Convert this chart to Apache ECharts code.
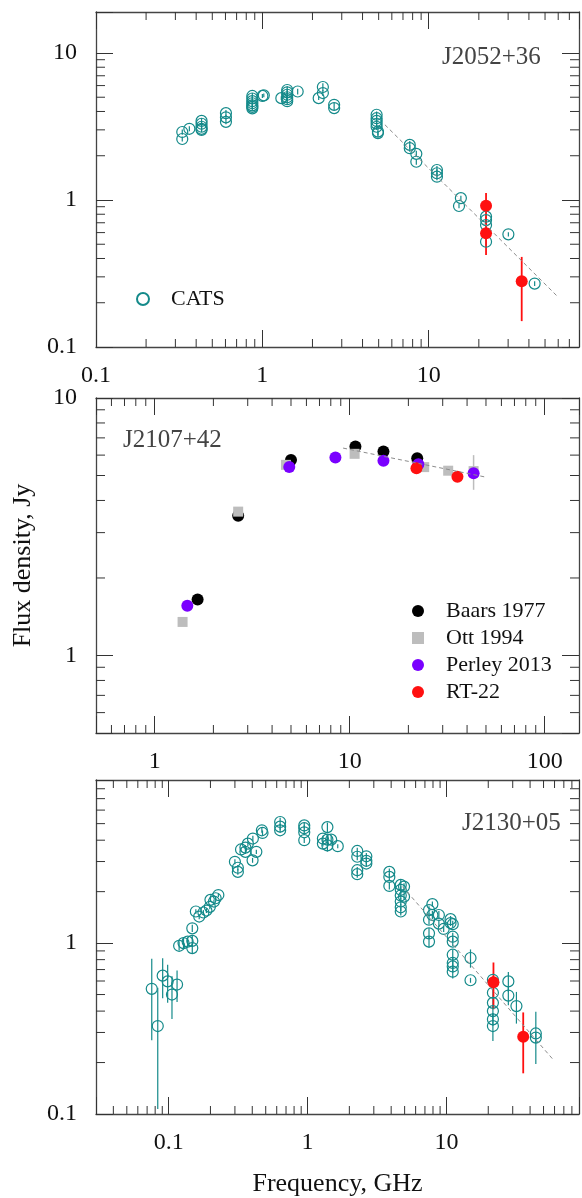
<!DOCTYPE html>
<html>
<head>
<meta charset="utf-8">
<script src="https://cdn.jsdelivr.net/npm/echarts@6/dist/echarts.min.js"></script>
<style>
    html, body { margin: 0; padding: 0; background: #fff; }
    #chart { width: 582px; height: 1198px; }
</style>
</head>
<body>
<div id="chart"></div>
<script>
//#region DATA
// [frequency GHz, flux Jy, error Jy]
const cats1 = [
    [0.33, 2.9, 0.12], [0.33, 2.6, 0.1], [0.364, 3.05, 0.12],
    [0.431, 3.45, 0.15], [0.431, 3.3, 0.12], [0.431, 3.15, 0.12], [0.431, 3.05, 0.1], [0.431, 3.0, 0.1],
    [0.604, 3.9, 0.2], [0.604, 3.65, 0.15], [0.604, 3.4, 0.12],
    [0.87, 5.1, 0.25], [0.87, 4.9, 0.2], [0.87, 4.7, 0.2], [0.87, 4.55, 0.2], [0.87, 4.4, 0.15], [0.87, 4.3, 0.15], [0.87, 4.2, 0.15],
    [1.0, 5.1, 0.15], [1.02, 5.15, 0.15],
    [1.30, 4.93, 0.15], [1.41, 5.6, 0.35], [1.41, 5.4, 0.3], [1.41, 5.2, 0.25], [1.41, 5.0, 0.2], [1.41, 4.85, 0.2], [1.41, 4.7, 0.2],
    [1.63, 5.47, 0.25], [2.18, 4.93, 0.15], [2.31, 5.87, 0.35], [2.31, 5.34, 0.25],
    [2.70, 4.44, 0.12], [2.70, 4.22, 0.12],
    [4.86, 3.8, 0.2], [4.86, 3.6, 0.2], [4.86, 3.45, 0.15], [4.86, 3.3, 0.15], [4.86, 3.15, 0.15], [4.95, 2.92, 0.25], [4.95, 2.85, 0.1],
    [7.69, 2.37, 0.15], [7.69, 2.25, 0.12], [8.42, 2.06, 0.1], [8.42, 1.82, 0.08],
    [11.2, 1.6, 0.1], [11.2, 1.52, 0.1], [11.2, 1.44, 0.08],
    [15.6, 1.03, 0.04], [15.2, 0.91, 0.03],
    [22.1, 0.77, 0.04], [22.1, 0.73, 0.04], [22.1, 0.675, 0.04], [22.1, 0.52, 0.03],
    [30.1, 0.584, 0.02], [43.3, 0.27, 0.01]
];
const rt1 = [[22.1, 0.915, 0.2], [22.1, 0.593, 0.17], [36.2, 0.28, 0.13]];
const fit1 = [[5.45, 3.25], [59.1, 0.222]];

const baars2 = [[1.66, 1.65], [2.68, 3.49], [5.0, 5.75], [10.7, 6.48], [14.9, 6.2], [22.2, 5.84]];
const ott2 = [[1.39, 1.35], [2.68, 3.62], [4.71, 5.5], [10.6, 6.07], [24.1, 5.39], [32, 5.22], [43.2, 5.2, 0.8]];
const perley2 = [[1.47, 1.56], [4.9, 5.39], [8.45, 5.87], [14.9, 5.7], [22.5, 5.53], [43.2, 5.1]];
const rt2 = [[22.0, 5.34], [35.7, 4.95]];
const fit2 = [[9.25, 6.39], [50.5, 4.92]];

const cats3 = [
    [0.0756, 0.54, 0.27], [0.0835, 0.327, 0.22], [0.0906, 0.645, 0.17], [0.0984, 0.597, 0.15], [0.1057, 0.5, 0.14], [0.115, 0.572, 0.12],
    [0.119, 0.964, 0.06], [0.128, 1.0, 0.08], [0.137, 1.02, 0.06], [0.148, 1.03, 0.08], [0.148, 0.935, 0.06], [0.148, 1.22, 0.06],
    [0.157, 1.53, 0.05], [0.166, 1.43, 0.05], [0.178, 1.51, 0.05], [0.187, 1.55, 0.05], [0.198, 1.63, 0.05],
    [0.2, 1.79, 0.05], [0.212, 1.75, 0.05], [0.218, 1.83, 0.05], [0.228, 1.91, 0.05],
    [0.30, 2.99, 0.1], [0.315, 2.76, 0.1], [0.315, 2.61, 0.1], [0.332, 3.53, 0.1], [0.357, 3.62, 0.12], [0.357, 3.42, 0.1],
    [0.372, 3.82, 0.12], [0.402, 3.05, 0.1], [0.404, 4.09, 0.15], [0.428, 3.42, 0.1], [0.469, 4.57, 0.15], [0.474, 4.41, 0.15],
    [0.635, 5.11, 0.3], [0.635, 4.8, 0.2], [0.635, 4.57, 0.15],
    [0.947, 4.88, 0.2], [0.947, 4.7, 0.2], [0.947, 4.45, 0.15], [0.947, 4.0, 0.15],
    [1.29, 4.09, 0.15], [1.29, 3.82, 0.15], [1.39, 4.77, 0.3], [1.39, 4.03, 0.3], [1.39, 3.73, 0.3], [1.48, 4.03, 0.2], [1.65, 3.69, 0.1],
    [2.28, 3.46, 0.15], [2.28, 3.2, 0.15], [2.28, 2.67, 0.12], [2.28, 2.53, 0.12],
    [2.65, 3.22, 0.15], [2.65, 3.03, 0.15], [2.65, 2.92, 0.12],
    [3.88, 2.61, 0.12], [3.88, 2.44, 0.1], [3.88, 2.16, 0.1],
    [4.69, 2.19, 0.15], [4.69, 2.05, 0.1], [4.69, 1.9, 0.1], [4.69, 1.75, 0.08], [4.69, 1.62, 0.08], [4.69, 1.53, 0.08],
    [4.95, 2.14, 0.1], [4.95, 1.87, 0.08],
    [7.49, 1.56, 0.08], [7.49, 1.37, 0.08], [7.49, 1.14, 0.08], [7.49, 1.02, 0.08],
    [7.92, 1.69, 0.06], [7.92, 1.46, 0.08], [8.82, 1.46, 0.08], [8.82, 1.3, 0.06], [9.55, 1.21, 0.05], [10.7, 1.38, 0.06], [10.7, 1.31, 0.05],
    [11.1, 1.29, 0.06], [11.1, 1.09, 0.06], [11.1, 1.02, 0.06], [11.1, 0.855, 0.06], [11.1, 0.765, 0.06], [11.1, 0.73, 0.06], [11.1, 0.68, 0.06],
    [14.9, 0.818, 0.1], [14.9, 0.606, 0.02],
    [21.6, 0.61, 0.03], [21.6, 0.512, 0.03], [21.6, 0.447, 0.03], [21.6, 0.40, 0.03], [21.6, 0.358, 0.03], [21.6, 0.327, 0.06],
    [27.9, 0.597, 0.08], [27.9, 0.493, 0.06], [31.9, 0.428, 0.09], [44, 0.296, 0.1], [44, 0.28, 0.02]
];
const rt3 = [[21.8, 0.59, 0.18], [35.7, 0.283, 0.11]];
const fit3 = [[4.83, 2.14], [57.8, 0.211]];

const xLabels1 = ['0.1', '1', '10'];
const yLabels1 = ['0.1', '1', '10'];
const xLabels2 = ['1', '10', '100'];
const yLabels2 = ['1', '10'];
const xLabels3 = ['0.1', '1', '10'];
const yLabels3 = ['0.1', '1'];
//#endregion DATA

const TEAL = '#148a8a';
const RED = '#ff1010';
const FONT = '"Liberation Serif", "Times New Roman", serif';
const AXIS_COLOR = '#444';
const SQUARE = 'path://M0 0H10V10H0Z';

const panels = [
    { top: 12, xMin: 0.1, xMax: 80, yMin: 0.1, yMax: 19, xl: xLabels1, yl: yLabels1 },
    { top: 398, xMin: 0.5, xMax: 150, yMin: 0.5, yMax: 10, xl: xLabels2, yl: yLabels2 },
    { top: 780, xMin: 0.03, xMax: 90, yMin: 0.1, yMax: 9, xl: xLabels3, yl: yLabels3 }
];

function labelFormatter(labels) {
    return v => {
        const s = String(+(+v).toPrecision(6));
        return labels.includes(s) ? s : '';
    };
}

function minorValues(min, max) {
    const out = [];
    for (let k = Math.floor(Math.log10(min)); k <= Math.ceil(Math.log10(max)); k++) {
        for (let m = 2; m <= 9; m++) {
            const v = m * Math.pow(10, k);
            if (v > min * 1.0001 && v < max * 0.9999) out.push(v);
        }
    }
    return out;
}

function tickLine(x1, y1, x2, y2) {
    return { type: 'line', shape: { x1, y1, x2, y2 }, style: { stroke: '#333', lineWidth: 1 } };
}

const grid = [], xAxis = [], yAxis = [], series = [];

panels.forEach((p, i) => {
    grid.push({ left: 96, top: p.top, width: 487, height: 335 });
    const axisLine = { show: true, lineStyle: { color: AXIS_COLOR, width: 1.3 } };
    const axisTick = { show: true, inside: true, length: 17, lineStyle: { color: '#333', width: 1 } };
    const label = { fontFamily: FONT, fontSize: 24, color: '#111' };
    xAxis.push({
        type: 'log', gridIndex: i, position: 'bottom', min: p.xMin, max: p.xMax,
        axisLine, axisTick, splitLine: { show: false },
        axisLabel: Object.assign({ margin: 17, formatter: labelFormatter(p.xl) }, label),
        name: i === 2 ? 'Frequency, GHz' : '', nameLocation: 'middle', nameGap: 57,
        nameTextStyle: { fontFamily: FONT, fontSize: 26, color: '#111' }
    });
    xAxis.push({
        type: 'log', gridIndex: i, position: 'top', min: p.xMin, max: p.xMax,
        axisLine, axisTick, splitLine: { show: false }, axisLabel: { show: false }
    });
    yAxis.push({
        type: 'log', gridIndex: i, position: 'left', min: p.yMin, max: p.yMax,
        axisLine, axisTick, splitLine: { show: false },
        axisLabel: Object.assign({ margin: 19, formatter: labelFormatter(p.yl) }, label),
        name: i === 1 ? 'Flux density, Jy' : '', nameLocation: 'middle', nameGap: 60,
        nameTextStyle: { fontFamily: FONT, fontSize: 26, color: '#111' }
    });
    yAxis.push({
        type: 'log', gridIndex: i, position: 'right', min: p.yMin, max: p.yMax,
        axisLine, axisTick, splitLine: { show: false }, axisLabel: { show: false }
    });

    // minor ticks (2..9 x 10^k) on all four sides
    const xm = minorValues(p.xMin, p.xMax);
    const ym = minorValues(p.yMin, p.yMax);
    series.push({
        type: 'custom', name: 'minor' + i, xAxisIndex: 2 * i, yAxisIndex: 2 * i, silent: true,
        data: [[p.xMin, p.yMin]],
        renderItem: (params, api) => {
            const lb = api.coord([p.xMin, p.yMin]);
            const rt = api.coord([p.xMax, p.yMax]);
            const children = [];
            xm.forEach(v => {
                const x = api.coord([v, p.yMin])[0];
                children.push(tickLine(x, lb[1], x, lb[1] - 8));
                children.push(tickLine(x, rt[1], x, rt[1] + 8));
            });
            ym.forEach(v => {
                const y = api.coord([p.xMin, v])[1];
                children.push(tickLine(lb[0], y, lb[0] + 9, y));
                children.push(tickLine(rt[0], y, rt[0] - 9, y));
            });
            return { type: 'group', children };
        }
    });
});

function errorBars(name, data, panel, color, width) {
    return {
        type: 'custom', name: name + ' err', xAxisIndex: 2 * panel, yAxisIndex: 2 * panel,
        silent: true, clip: true, encode: { x: 0, y: 1 },
        data: data.filter(d => d[2]),
        renderItem: (params, api) => {
            const x = api.value(0), y = api.value(1), e = api.value(2);
            const a = api.coord([x, y + e]);
            const b = api.coord([x, Math.max(y - e, 1e-3)]);
            return { type: 'line', shape: { x1: a[0], y1: a[1], x2: b[0], y2: b[1] }, style: { stroke: color, lineWidth: width } };
        }
    };
}

function scatter(name, data, panel, symbol, size, itemStyle) {
    return {
        type: 'scatter', name, xAxisIndex: 2 * panel, yAxisIndex: 2 * panel,
        data: data.map(d => [d[0], d[1]]), symbol, symbolSize: size,
        itemStyle: Object.assign({ opacity: 1 }, itemStyle),
        emphasis: { disabled: true }
    };
}

function fitLine(data, panel) {
    return {
        type: 'line', name: 'fit' + panel, xAxisIndex: 2 * panel, yAxisIndex: 2 * panel,
        data, symbol: 'none', silent: true,
        lineStyle: { color: '#8c8c8c', width: 1, type: [4, 3] }
    };
}

const catsStyle = { color: 'rgba(0,0,0,0)', borderColor: TEAL, borderWidth: 1.2 };
const redStyle = { color: RED };

// panel 1
series.push(fitLine(fit1, 0));
series.push(errorBars('CATS', cats1, 0, TEAL, 1.2));
series.push(scatter('CATS', cats1, 0, 'circle', 11, catsStyle));
series.push(errorBars('RT-22', rt1, 0, RED, 1.8));
series.push(scatter('RT-22', rt1, 0, 'circle', 12, redStyle));

// panel 2
series.push(fitLine(fit2, 1));
series.push(scatter('Baars 1977', baars2, 1, 'circle', 12, { color: '#000' }));
series.push(errorBars('Ott 1994', ott2, 1, '#bdbdbd', 1.5));
series.push(scatter('Ott 1994', ott2, 1, 'rect', 10, { color: '#bdbdbd' }));
series.push(scatter('Perley 2013', perley2, 1, 'circle', 12, { color: '#7a00ff' }));
series.push(scatter('RT-22', rt2, 1, 'circle', 12, redStyle));

// panel 3
series.push(fitLine(fit3, 2));
series.push(errorBars('CATS', cats3, 2, TEAL, 1.2));
series.push(scatter('CATS', cats3, 2, 'circle', 11, catsStyle));
series.push(errorBars('RT-22', rt3, 2, RED, 1.8));
series.push(scatter('RT-22', rt3, 2, 'circle', 12, redStyle));

const legendText = { fontFamily: FONT, fontSize: 22, color: '#111' };

const chart = echarts.init(document.getElementById('chart'), null, { renderer: 'canvas' });
chart.setOption({
    animation: false,
    backgroundColor: '#fff',
    grid, xAxis, yAxis, series,
    legend: [
        {
            data: ['CATS'], orient: 'vertical', left: 136, top: 288, padding: 0,
            itemWidth: 46, itemHeight: 12, itemGap: 5, textStyle: legendText, selectedMode: false
        },
        {
            data: ['Baars 1977', { name: 'Ott 1994', icon: SQUARE }, 'Perley 2013', 'RT-22'],
            orient: 'vertical', left: 412, top: 600, padding: 0,
            itemWidth: 46, itemHeight: 12, itemGap: 5, textStyle: legendText, selectedMode: false
        }
    ],
    graphic: [
        { type: 'text', x: 442, y: 57, style: { text: 'J2052+36', font: '25px ' + FONT, fill: '#444', verticalAlign: 'middle' } },
        { type: 'text', x: 123, y: 440, style: { text: 'J2107+42', font: '25px ' + FONT, fill: '#444', verticalAlign: 'middle' } },
        { type: 'text', x: 462, y: 823, style: { text: 'J2130+05', font: '25px ' + FONT, fill: '#444', verticalAlign: 'middle' } }
    ]
});
</script>
</body>
</html>
